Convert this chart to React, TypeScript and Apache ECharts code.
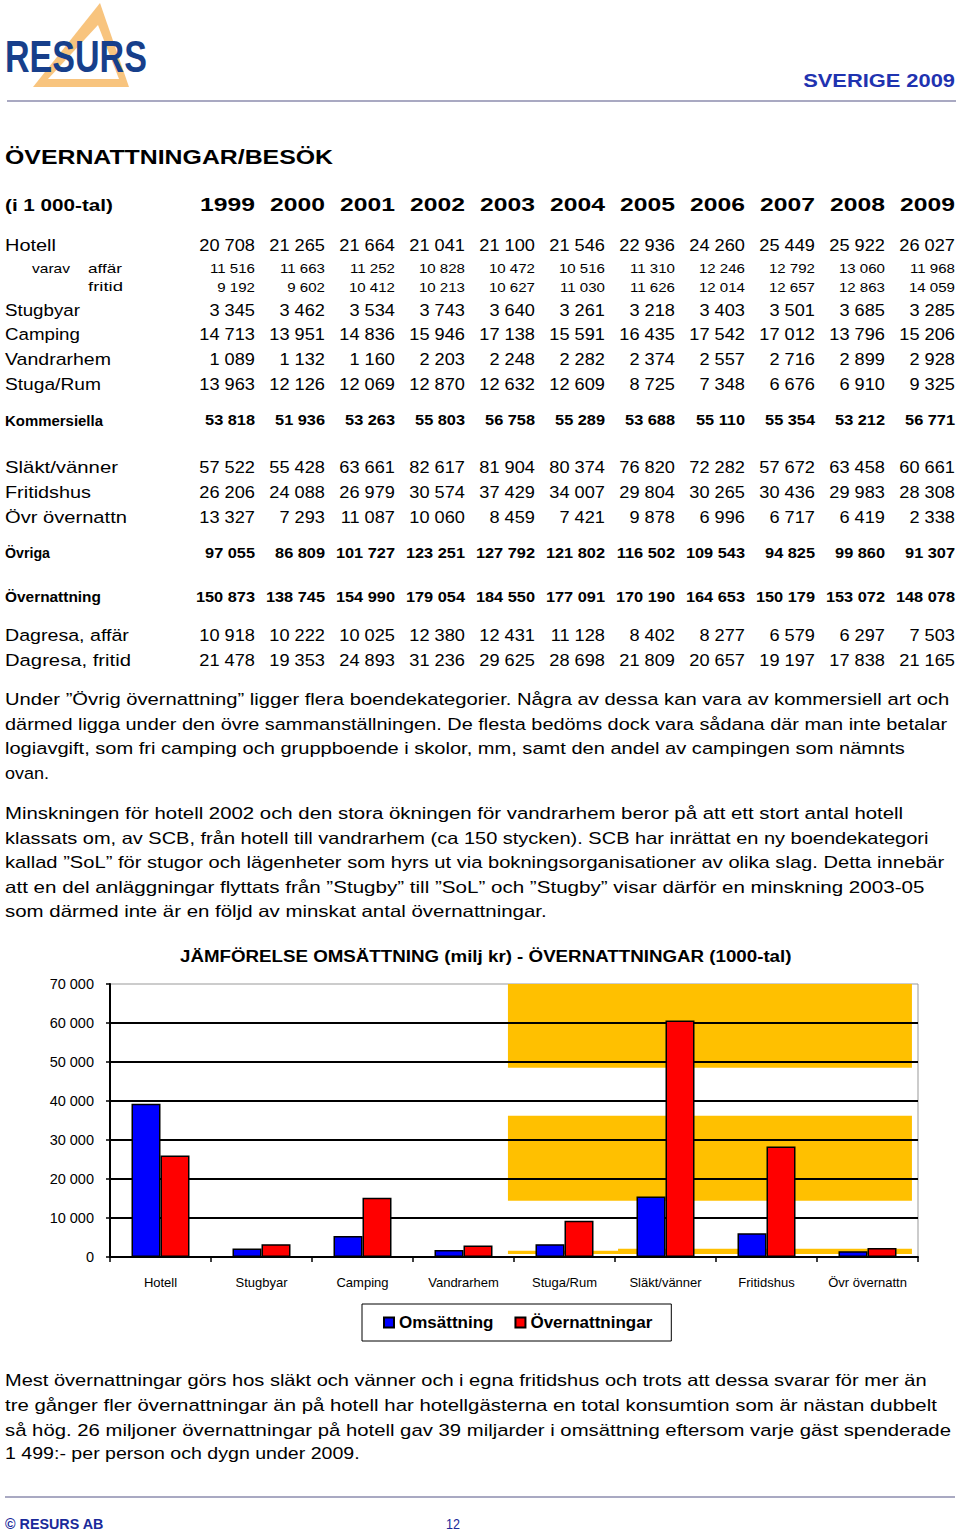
import React, { useEffect, useRef } from "react";
import * as echarts from "echarts";

// ---------- table data ----------
const years = ["1999", "2000", "2001", "2002", "2003", "2004", "2005", "2006", "2007", "2008", "2009"];
const hotell = [20708, 21265, 21664, 21041, 21100, 21546, 22936, 24260, 25449, 25922, 26027];
const hotellAffar = [11516, 11663, 11252, 10828, 10472, 10516, 11310, 12246, 12792, 13060, 11968];
const hotellFritid = [9192, 9602, 10412, 10213, 10627, 11030, 11626, 12014, 12657, 12863, 14059];
const stugbyar = [3345, 3462, 3534, 3743, 3640, 3261, 3218, 3403, 3501, 3685, 3285];
const camping = [14713, 13951, 14836, 15946, 17138, 15591, 16435, 17542, 17012, 13796, 15206];
const vandrarhem = [1089, 1132, 1160, 2203, 2248, 2282, 2374, 2557, 2716, 2899, 2928];
const stugaRum = [13963, 12126, 12069, 12870, 12632, 12609, 8725, 7348, 6676, 6910, 9325];
const kommersiella = [53818, 51936, 53263, 55803, 56758, 55289, 53688, 55110, 55354, 53212, 56771];
const slaktVanner = [57522, 55428, 63661, 82617, 81904, 80374, 76820, 72282, 57672, 63458, 60661];
const fritidshus = [26206, 24088, 26979, 30574, 37429, 34007, 29804, 30265, 30436, 29983, 28308];
const ovrOvernattn = [13327, 7293, 11087, 10060, 8459, 7421, 9878, 6996, 6717, 6419, 2338];
const ovriga = [97055, 86809, 101727, 123251, 127792, 121802, 116502, 109543, 94825, 99860, 91307];
const overnattning = [150873, 138745, 154990, 179054, 184550, 177091, 170190, 164653, 150179, 153072, 148078];
const dagresaAffar = [10918, 10222, 10025, 12380, 12431, 11128, 8402, 8277, 6579, 6297, 7503];
const dagresaFritid = [21478, 19353, 24893, 31236, 29625, 28698, 21809, 20657, 19197, 17838, 21165];

// ---------- chart data ----------
const categories = ["Hotell", "Stugbyar", "Camping", "Vandrarhem", "Stuga/Rum", "Släkt/vänner", "Fritidshus", "Övr övernattn"];
const omsattning = [39300, 2200, 5400, 1800, 3300, 15500, 6100, 1500];
const overnattningar = [26027, 3285, 15206, 2928, 9325, 60661, 28308, 2338];
const yMax = 70000;
const yStep = 10000;
const gridValues = [10000, 20000, 30000, 40000, 50000, 60000];
// background bands [xFrom, xTo, yFrom, yTo] in category units / axis values
const bands = [
  [3.94, 7.94, 48500, 70000],
  [3.94, 7.94, 14400, 36200],
  [3.94, 5.03, 770, 1620],
  [5.03, 7.94, 770, 2130],
];

const para1 = [
  "Under ”Övrig övernattning” ligger flera boendekategorier. Några av dessa kan vara av kommersiell art och",
  "därmed ligga under den övre sammanställningen. De flesta bedöms dock vara sådana där man inte betalar",
  "logiavgift, som fri camping och gruppboende i skolor, mm, samt den andel av campingen som nämnts",
  "ovan.",
];
const para2 = [
  "Minskningen för hotell 2002 och den stora ökningen för vandrarhem beror på att ett stort antal hotell",
  "klassats om, av SCB, från hotell till vandrarhem (ca 150 stycken). SCB har inrättat en ny boendekategori",
  "kallad ”SoL” för stugor och lägenheter som hyrs ut via bokningsorganisationer av olika slag. Detta innebär",
  "att en del anläggningar flyttats från ”Stugby” till ”SoL” och ”Stugby” visar därför en minskning 2003-05",
  "som därmed inte är en följd av minskat antal övernattningar.",
];
const para3 = [
  "Mest övernattningar görs hos släkt och vänner och i egna fritidshus och trots att dessa svarar för mer än",
  "tre gånger fler övernattningar än på hotell har hotellgästerna en total konsumtion som är nästan dubbelt",
  "så hög. 26 miljoner övernattningar på hotell gav 39 miljarder i omsättning eftersom varje gäst spenderade",
  "1 499:- per person och dygn under 2009.",
];

const FONT = '"Liberation Sans", Arial, Helvetica, sans-serif';

function fmt(v: number): string {
  return String(v).replace(/\B(?=(\d{3})+(?!\d))/g, " ");
}

let measureCtx: CanvasRenderingContext2D | null = null;
function mw(text: string, size: number, weight: string): number {
  if (!measureCtx) measureCtx = document.createElement("canvas").getContext("2d");
  measureCtx!.font = `${weight} ${size}px ${FONT}`;
  return measureCtx!.measureText(text).width || 1;
}

type TOpt = { size: number; weight?: string; w?: number; sx?: number; align?: string; color?: string };
function T(text: string, x: number, y: number, o: TOpt): any {
  const weight = o.weight || "normal";
  let sx = o.sx ?? 1;
  if (o.w) sx = o.w / mw(text, o.size, weight);
  const align = o.align || "left";
  return {
    type: "text",
    x,
    y,
    scaleX: sx,
    z: 10,
    silent: true,
    style: {
      text,
      fill: o.color || "#000",
      fontSize: o.size,
      fontWeight: weight,
      fontFamily: FONT,
      textAlign: align,
      align,
      textVerticalAlign: "middle",
      verticalAlign: "middle",
    },
  };
}

function buildGraphics(): any[] {
  const g: any[] = [];
  // logo
  g.push({ type: "polygon", z: 5, silent: true, shape: { points: [[100, 3], [129, 87], [33, 87]] }, style: { fill: "#f8c47e" } });
  g.push({ type: "polygon", z: 6, silent: true, shape: { points: [[98, 25], [119, 79], [48, 79]] }, style: { fill: "#ffffff" } });
  g.push(T("RESURS", 5, 56, { size: 44, weight: "bold", w: 142, color: "#173f8b" }));
  g.push(T("SVERIGE 2009", 955, 80, { size: 19, weight: "bold", w: 152, align: "right", color: "#1f33b0" }));
  g.push({ type: "line", z: 5, silent: true, shape: { x1: 7, y1: 101, x2: 956, y2: 101 }, style: { stroke: "#a9a9c2", lineWidth: 2 } });

  // heading
  g.push(T("ÖVERNATTNINGAR/BESÖK", 5, 157, { size: 21, weight: "bold", w: 328 }));
  g.push(T("(i 1 000-tal)", 5, 205, { size: 16, weight: "bold", w: 108 }));
  const colRight = (i: number) => 255 + 70 * i;
  years.forEach((yr, i) => g.push(T(yr, colRight(i), 205, { size: 19, weight: "bold", w: 55, align: "right" })));

  const sxBig = 55.7 / mw("20 708", 17, "normal");
  const sxSmall = 45 / mw("11 516", 13, "normal");
  const sxBold = 50 / mw("53 818", 15, "bold");

  const rows: any[] = [
    { label: "Hotell", data: hotell, y: 245, kind: "big", w: 51 },
    { label: "affär", data: hotellAffar, y: 268, kind: "small", w: 34, lx: 88 },
    { label: "fritid", data: hotellFritid, y: 287, kind: "small", w: 35, lx: 88 },
    { label: "Stugbyar", data: stugbyar, y: 310, kind: "big", w: 75 },
    { label: "Camping", data: camping, y: 334, kind: "big", w: 75 },
    { label: "Vandrarhem", data: vandrarhem, y: 359, kind: "big", w: 106 },
    { label: "Stuga/Rum", data: stugaRum, y: 384, kind: "big", w: 96 },
    { label: "Kommersiella", data: kommersiella, y: 420, kind: "bold", w: 98 },
    { label: "Släkt/vänner", data: slaktVanner, y: 467, kind: "big", w: 113 },
    { label: "Fritidshus", data: fritidshus, y: 492, kind: "big", w: 86 },
    { label: "Övr övernattn", data: ovrOvernattn, y: 517, kind: "big", w: 122 },
    { label: "Övriga", data: ovriga, y: 553, kind: "bold", w: 45 },
    { label: "Övernattning", data: overnattning, y: 597, kind: "bold", w: 96 },
    { label: "Dagresa, affär", data: dagresaAffar, y: 635, kind: "big", w: 124 },
    { label: "Dagresa, fritid", data: dagresaFritid, y: 660, kind: "big", w: 126 },
  ];
  g.push(T("varav", 32, 268, { size: 13, w: 38 }));
  rows.forEach((r) => {
    const size = r.kind === "big" ? 17 : r.kind === "small" ? 13 : 15;
    const weight = r.kind === "bold" ? "bold" : "normal";
    const sx = r.kind === "big" ? sxBig : r.kind === "small" ? sxSmall : sxBold;
    g.push(T(r.label, r.lx ?? 5, r.y, { size, weight, w: r.w }));
    r.data.forEach((v: number, i: number) => g.push(T(fmt(v), colRight(i), r.y, { size, weight, sx, align: "right" })));
  });

  // paragraphs
  const p1Ends = [950, 948, 906, 49];
  const p1Y = [699, 724, 748, 773];
  para1.forEach((s, i) => g.push(T(s, 5, p1Y[i], { size: 16.5, w: p1Ends[i] - 5 })));
  const p2Ends = [904, 929, 945, 925, 547];
  const p2Y = [813, 838, 862, 887, 911];
  para2.forEach((s, i) => g.push(T(s, 5, p2Y[i], { size: 16.5, w: p2Ends[i] - 5 })));
  const p3Ends = [927, 937, 951, 360];
  const p3Y = [1380, 1405, 1430, 1454];
  para3.forEach((s, i) => g.push(T(s, 5, p3Y[i], { size: 16.5, w: p3Ends[i] - 5 })));

  // chart title
  g.push(T("JÄMFÖRELSE OMSÄTTNING (milj kr) - ÖVERNATTNINGAR (1000-tal)", 180, 956, { size: 17, weight: "bold", w: 612 }));

  // footer
  g.push({ type: "line", z: 5, silent: true, shape: { x1: 5, y1: 1497, x2: 955, y2: 1497 }, style: { stroke: "#a9a9c2", lineWidth: 2 } });
  g.push(T("© RESURS AB", 5, 1524, { size: 14, weight: "bold", w: 99, color: "#1a2a9a" }));
  g.push(T("12", 446, 1524, { size: 14, w: 14, color: "#1a2a9a" }));
  return g;
}

export default function App() {
  const ref = useRef<HTMLDivElement>(null);
  useEffect(() => {
    if (!ref.current) return;
    const chart = echarts.init(ref.current, null, { renderer: "svg" });
    chart.setOption({
      animation: false,
      backgroundColor: "#ffffff",
      textStyle: { fontFamily: FONT },
      grid: { left: 110, top: 984, width: 808, height: 273, show: true, borderColor: "#999999", borderWidth: 1, backgroundColor: "transparent" },
      legend: {
        data: ["Omsättning", "Övernattningar"],
        left: 362,
        top: 1304,
        orient: "horizontal",
        padding: [10, 19, 10, 21],
        itemGap: 21,
        itemWidth: 10,
        itemHeight: 10,
        icon: "rect",
        borderColor: "#000",
        borderWidth: 1,
        selectedMode: false,
        textStyle: { fontSize: 17, fontWeight: "bold", fontFamily: FONT, color: "#000", lineHeight: 17 },
      },
      xAxis: [
        {
          type: "category",
          data: categories,
          z: 3,
          axisLine: { show: true, lineStyle: { color: "#000", width: 2 } },
          axisTick: { show: true, length: 5, lineStyle: { color: "#000", width: 1.5 } },
          axisLabel: { margin: 19, fontSize: 13, fontFamily: FONT, color: "#000", interval: 0 },
          splitLine: { show: false },
        },
        { type: "value", min: 0, max: 8, show: false },
      ],
      yAxis: {
        type: "value",
        min: 0,
        max: yMax,
        interval: yStep,
        z: 3,
        axisLine: { show: true, lineStyle: { color: "#000", width: 2 } },
        axisTick: { show: true, length: 4, lineStyle: { color: "#000", width: 1.5 } },
        axisLabel: { margin: 16, fontSize: 14.5, fontFamily: FONT, color: "#000", formatter: (v: number) => fmt(v) },
        splitLine: { show: true, showMaxLine: false, lineStyle: { color: "#000", width: 2 } },
      },
      series: [
        {
          name: "bands",
          type: "custom",
          xAxisIndex: 1,
          yAxisIndex: 0,
          silent: true,
          z: 1,
          encode: { x: [0, 1], y: [2, 3] },
          data: bands,
          renderItem: (params: any, api: any) => {
            const x0 = api.value(0);
            const x1 = api.value(1);
            const y0 = api.value(2);
            const y1 = api.value(3);
            const p1 = api.coord([x0, y1]);
            const p2 = api.coord([x1, y0]);
            const children: any[] = [
              {
                type: "rect",
                shape: { x: p1[0], y: p1[1], width: p2[0] - p1[0], height: p2[1] - p1[1] },
                style: { fill: "#FFC000" },
              },
            ];
            // keep the chart's grid lines visible across the band
            gridValues
              .filter((v) => v > y0 && v < y1)
              .forEach((v) => {
                const py = Math.round(api.coord([x0, v])[1]);
                children.push({
                  type: "line",
                  z2: 5,
                  shape: { x1: p1[0], y1: py, x2: p2[0], y2: py },
                  style: { stroke: "#000000", lineWidth: 2 },
                });
              });
            return { type: "group", children };
          },
        },
        {
          name: "Omsättning",
          type: "bar",
          data: omsattning,
          barWidth: 29,
          barGap: "0%",
          z: 8,
          itemStyle: { color: "#0000FF", borderColor: "#000", borderWidth: 1.5 },
        },
        {
          name: "Övernattningar",
          type: "bar",
          data: overnattningar,
          barWidth: 29,
          barGap: "0%",
          z: 8,
          itemStyle: { color: "#FF0000", borderColor: "#000", borderWidth: 1.5 },
        },
      ],
      graphic: buildGraphics(),
    });
    return () => chart.dispose();
  }, []);
  return (
    <div
      ref={ref}
      style={{ position: "absolute", left: 0, top: 0, width: 960, height: 1533, background: "#fff" }}
    />
  );
}
